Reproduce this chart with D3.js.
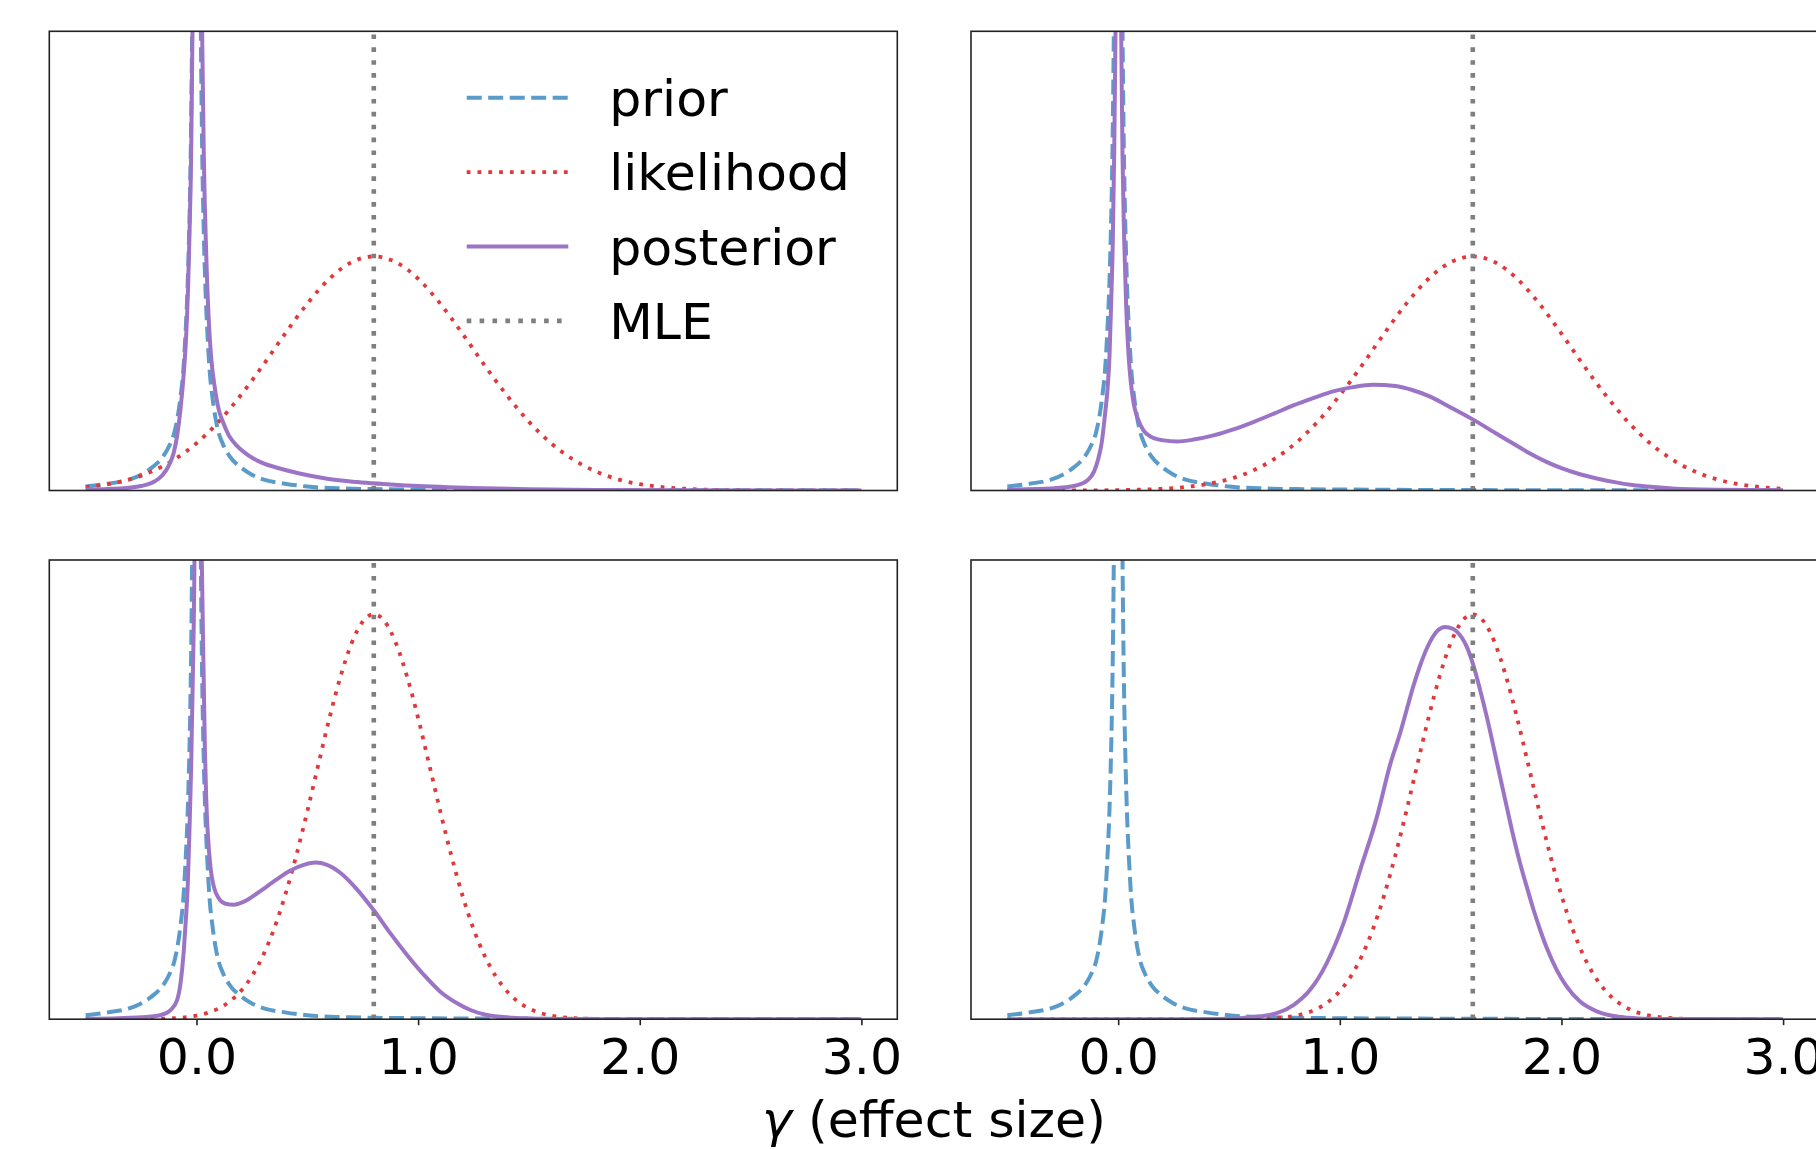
<!DOCTYPE html>
<html>
<head>
<meta charset="utf-8">
<script src="https://cdn.jsdelivr.net/npm/d3@7"></script>
<style>
  body { margin: 0; background: #fff; }
  svg { display: block; font-family: "DejaVu Sans", sans-serif; }
</style>
</head>
<body>
<svg id="chart" width="1816" height="1149"></svg>
<script>
// values (density units, x = effect size)
const priorPts = [[-0.5,0.015],[-0.4,0.026],[-0.3,0.042],[-0.25,0.06],[-0.2,0.088],[-0.15,0.13],[-0.12,0.175],[-0.1,0.22],[-0.085,0.28],[-0.07,0.37],
  [-0.06,0.45],[-0.05,0.59],[-0.04,0.78],[-0.034,0.95],[-0.028,1.18],[-0.024,1.4],[-0.02,1.72],[-0.014,2.4],[-0.008,3.4],[0,5.0],
  [0.008,3.4],[0.014,2.4],[0.02,1.72],[0.024,1.4],[0.028,1.18],[0.034,0.95],[0.04,0.78],[0.05,0.59],[0.06,0.45],[0.07,0.37],
  [0.085,0.28],[0.1,0.22],[0.12,0.175],[0.15,0.13],[0.2,0.088],[0.25,0.06],[0.3,0.042],[0.4,0.026],[0.5,0.015],[0.65,0.008],
  [0.8,0.0055],[1.0,0.0038],[1.5,0.0018],[2.0,0.001],[2.5,0.0007],[3.0,0.0005]];

const likeTL = [[-0.5,0.013],[-0.4,0.024],[-0.3,0.043],[-0.2,0.073],[-0.1,0.118],[0,0.18],[0.1,0.262],[0.2,0.363],[0.3,0.477],[0.4,0.598],
  [0.5,0.712],[0.6,0.807],[0.7,0.87],[0.8,0.892],[0.9,0.87],[1.0,0.807],[1.1,0.712],[1.2,0.598],[1.3,0.477],[1.4,0.363],
  [1.5,0.262],[1.6,0.18],[1.7,0.118],[1.8,0.073],[1.9,0.043],[2.0,0.024],[2.1,0.013],[2.2,0.0066],[2.4,0.0015],[2.6,0.0003],[3.0,0]];

const likeTR = [[-0.5,0],[-0.2,0.0001],[0,0.0015],[0.1,0.0032],[0.2,0.0066],[0.3,0.013],[0.4,0.024],[0.5,0.043],[0.6,0.073],[0.7,0.118],
  [0.8,0.18],[0.9,0.262],[1.0,0.363],[1.1,0.477],[1.2,0.598],[1.3,0.712],[1.4,0.807],[1.5,0.87],[1.6,0.892],[1.7,0.87],
  [1.8,0.807],[1.9,0.712],[2.0,0.598],[2.1,0.477],[2.2,0.363],[2.3,0.262],[2.4,0.18],[2.5,0.118],[2.6,0.073],[2.7,0.043],
  [2.8,0.024],[2.9,0.013],[3.0,0.0066]];

const likeBL = [[-0.5,0],[-0.3,0.0002],[-0.2,0.0009],[-0.1,0.0038],[0,0.0135],[0.05,0.0239],[0.1,0.0409],[0.15,0.0675],[0.2,0.107],[0.25,0.164],
  [0.3,0.242],[0.35,0.344],[0.4,0.472],[0.45,0.623],[0.5,0.792],[0.55,0.971],[0.6,1.148],[0.65,1.306],[0.7,1.433],[0.75,1.515],
  [0.8,1.543],[0.85,1.515],[0.9,1.433],[0.95,1.306],[1.0,1.148],[1.05,0.971],[1.1,0.792],[1.15,0.623],[1.2,0.472],[1.25,0.344],
  [1.3,0.242],[1.35,0.164],[1.4,0.107],[1.45,0.0675],[1.5,0.0409],[1.55,0.0239],[1.6,0.0135],[1.7,0.0038],[1.8,0.0009],[1.9,0.0002],
  [2.0,0],[3.0,0]];

const likeBR = [[-0.5,0],[0.5,0.0002],[0.6,0.0009],[0.7,0.0038],[0.8,0.0135],[0.85,0.0239],[0.9,0.0409],[0.95,0.0675],[1.0,0.107],[1.05,0.164],
  [1.1,0.242],[1.15,0.344],[1.2,0.472],[1.25,0.623],[1.3,0.792],[1.35,0.971],[1.4,1.148],[1.45,1.306],[1.5,1.433],[1.55,1.515],
  [1.6,1.543],[1.65,1.515],[1.7,1.433],[1.75,1.306],[1.8,1.148],[1.85,0.971],[1.9,0.792],[1.95,0.623],[2.0,0.472],[2.05,0.344],
  [2.1,0.242],[2.15,0.164],[2.2,0.107],[2.25,0.0675],[2.3,0.0409],[2.35,0.0239],[2.4,0.0135],[2.5,0.0038],[2.6,0.0009],[2.7,0.0002],[3.0,0]];

const postTL = [[-0.5,0.0035],[-0.4,0.006],[-0.33,0.009],[-0.25,0.017],[-0.19,0.034],[-0.155,0.057],[-0.125,0.095],[-0.102,0.146],[-0.087,0.21],[-0.072,0.31],
  [-0.057,0.45],[-0.047,0.58],[-0.038,0.77],[-0.032,0.96],[-0.024,1.28],[-0.018,1.75],[-0.012,2.5],[-0.006,3.6],[0.002,5.4],[0.01,3.8],
  [0.016,2.8],[0.021,2.15],[0.026,1.72],[0.033,1.28],[0.044,0.9],[0.056,0.64],[0.066,0.51],[0.083,0.39],[0.1,0.31],[0.12,0.26],
  [0.146,0.21],[0.183,0.17],[0.236,0.133],[0.289,0.108],[0.38,0.083],[0.47,0.064],[0.59,0.045],[0.725,0.032],[0.95,0.019],[1.236,0.01],
  [1.5,0.005],[1.8,0.002],[2.2,0.0005],[3.0,0]];

const postTR = [[-0.5,0.0035],[-0.3,0.008],[-0.19,0.019],[-0.14,0.038],[-0.11,0.07],[-0.09,0.12],[-0.074,0.184],[-0.06,0.285],[-0.048,0.387],[-0.039,0.515],
  [-0.032,0.705],[-0.024,0.96],[-0.018,1.28],[-0.012,1.75],[-0.006,2.6],[0.001,3.5],[0.007,2.6],[0.0135,1.75],[0.0195,1.28],[0.027,0.96],
  [0.036,0.705],[0.047,0.515],[0.057,0.413],[0.069,0.336],[0.089,0.273],[0.114,0.229],[0.152,0.203],[0.205,0.191],[0.265,0.187],[0.34,0.194],
  [0.43,0.21],[0.52,0.233],[0.61,0.261],[0.7,0.292],[0.79,0.324],[0.88,0.352],[0.97,0.378],[1.06,0.394],[1.15,0.403],[1.25,0.398],
  [1.33,0.382],[1.41,0.357],[1.48,0.326],[1.6,0.271],[1.7,0.22],[1.78,0.18],[1.86,0.14],[1.93,0.11],[2.0,0.085],[2.08,0.063],
  [2.16,0.046],[2.24,0.032],[2.32,0.021],[2.4,0.014],[2.5,0.008],[2.7,0.003],[3.0,0.001]];

const postBL = [[-0.5,0.002],[-0.35,0.004],[-0.25,0.007],[-0.16,0.016],[-0.117,0.035],[-0.087,0.074],[-0.072,0.137],[-0.057,0.264],[-0.047,0.392],[-0.039,0.518],
  [-0.032,0.709],[-0.024,0.96],[-0.017,1.28],[-0.009,1.75],[-0.003,2.6],[0.005,3.5],[0.014,2.5],[0.024,1.75],[0.033,1.28],[0.038,1.03],
  [0.044,0.84],[0.051,0.71],[0.063,0.58],[0.078,0.506],[0.101,0.46],[0.131,0.44],[0.168,0.436],[0.214,0.448],[0.274,0.48],[0.349,0.525],
  [0.424,0.567],[0.484,0.588],[0.537,0.597],[0.589,0.588],[0.65,0.557],[0.725,0.494],[0.8,0.415],[0.875,0.327],[0.95,0.245],[1.026,0.169],
  [1.1,0.105],[1.176,0.061],[1.236,0.035],[1.3,0.018],[1.4,0.007],[1.5,0.003],[1.7,0.0005],[2.0,0],[3.0,0]];

const postBR = [[-0.5,0],[0.3,0],[0.45,0.001],[0.565,0.005],[0.64,0.011],[0.716,0.023],[0.791,0.054],[0.866,0.112],[0.941,0.214],[1.017,0.366],
  [1.092,0.569],[1.167,0.77],[1.227,0.97],[1.272,1.09],[1.302,1.18],[1.332,1.27],[1.363,1.35],[1.408,1.44],[1.44,1.48],[1.475,1.495],
  [1.51,1.488],[1.528,1.477],[1.573,1.419],[1.6,1.356],[1.633,1.255],[1.663,1.153],[1.693,1.04],[1.723,0.924],[1.753,0.81],[1.783,0.697],
  [1.813,0.595],[1.843,0.506],[1.874,0.417],[1.904,0.34],[1.934,0.271],[1.979,0.187],[2.024,0.124],[2.084,0.067],[2.159,0.03],[2.235,0.012],
  [2.3,0.006],[2.4,0.002],[2.6,0.0003],[3.0,0]];

const mleValues = [0.8, 1.6];          // left column, right column
const xTicks = [0, 1, 2, 3];
const legendLabels = ["prior", "likelihood", "posterior", "MLE"];

const colors = { prior: "#5b9bca", likelihood: "#e0393c", posterior: "#9b74c6", mle: "#7f7f7f" };
const dashes = { prior: "15,6.5", likelihood: "3.8,7", posterior: null, mle: "4.6,8.3" };
const widths = { prior: 4, likelihood: 3.8, posterior: 4, mle: 4.6 };
const fontPx = 50.5;

const panels = [
  { id: "tl", left: 49.3, top: 31.3, like: likeTL, post: postTL, mle: mleValues[0], ticks: false, legend: true },
  { id: "tr", left: 971, top: 31.3, like: likeTR, post: postTR, mle: mleValues[1], ticks: false, legend: false },
  { id: "bl", left: 49.3, top: 560, like: likeBL, post: postBL, mle: mleValues[0], ticks: true, legend: false },
  { id: "br", left: 971, top: 560, like: likeBR, post: postBR, mle: mleValues[1], ticks: true, legend: false }
];
const pw = 848, ph = 459.2;

const svg = d3.select("#chart");
svg.append("rect").attr("width", 1816).attr("height", 1149).attr("fill", "#fff");

const x = d3.scaleLinear().domain([-0.664, 3.162]).range([0, pw]);
const y = d3.scaleLinear().domain([0, 1.75]).range([ph, 0]);

const line = d3.line()
  .x(d => x(d[0]))
  .y(d => y(d[1]))
  .curve(d3.curveMonotoneX);

const defs = svg.append("defs");

panels.forEach(p => {
  defs.append("clipPath").attr("id", "clip-" + p.id)
    .append("rect").attr("width", pw).attr("height", ph);

  const g = svg.append("g").attr("transform", `translate(${p.left},${p.top})`);
  const plot = g.append("g").attr("clip-path", `url(#clip-${p.id})`);

  const series = [
    { key: "prior", pts: priorPts },
    { key: "likelihood", pts: p.like },
    { key: "posterior", pts: p.post }
  ];
  series.forEach(s => {
    plot.append("path")
      .datum(s.pts)
      .attr("d", line)
      .attr("fill", "none")
      .attr("stroke", colors[s.key])
      .attr("stroke-width", widths[s.key])
      .attr("stroke-dasharray", dashes[s.key])
      .attr("stroke-linejoin", "round");
  });

  plot.append("line")
    .attr("x1", x(p.mle)).attr("x2", x(p.mle))
    .attr("y1", y(0)).attr("y2", 0)
    .attr("stroke", colors.mle)
    .attr("stroke-width", widths.mle)
    .attr("stroke-dasharray", dashes.mle);

  if (p.ticks) {
    const ax = g.append("g")
      .attr("transform", `translate(0,${ph})`)
      .call(d3.axisBottom(x).tickValues(xTicks).tickFormat(d3.format(".1f")).tickSize(6).tickSizeOuter(0));
    ax.select(".domain").remove();
    ax.selectAll(".tick line").attr("stroke", "#222").attr("stroke-width", 1.6);
    ax.selectAll(".tick text")
      .attr("y", 55).attr("dy", 0)
      .attr("fill", "#000")
      .style("font-size", fontPx + "px")
      .style("font-family", "DejaVu Sans");
  }

  // frame
  g.append("rect")
    .attr("width", pw).attr("height", ph)
    .attr("fill", "none").attr("stroke", "#222").attr("stroke-width", 1.6);

  if (p.legend) {
    const keys = ["prior", "likelihood", "posterior", "mle"];
    const lg = g.append("g");
    keys.forEach((k, i) => {
      const ly = 66.4 + i * 74.4;
      lg.append("line")
        .attr("x1", 417.4).attr("x2", 519)
        .attr("y1", ly).attr("y2", ly)
        .attr("stroke", colors[k])
        .attr("stroke-width", widths[k])
        .attr("stroke-dasharray", dashes[k]);
      lg.append("text")
        .attr("x", 560).attr("y", ly)
        .attr("dy", "0.36em")
        .style("font-size", fontPx + "px")
        .attr("fill", "#000")
        .text(legendLabels[i]);
    });
  }
});

const xl = svg.append("text")
  .attr("x", 934).attr("y", 1137)
  .attr("text-anchor", "middle")
  .style("font-size", fontPx + "px")
  .attr("fill", "#000");
xl.append("tspan").attr("font-style", "italic").text("γ");
xl.append("tspan").text(" (effect size)");
</script>
</body>
</html>
